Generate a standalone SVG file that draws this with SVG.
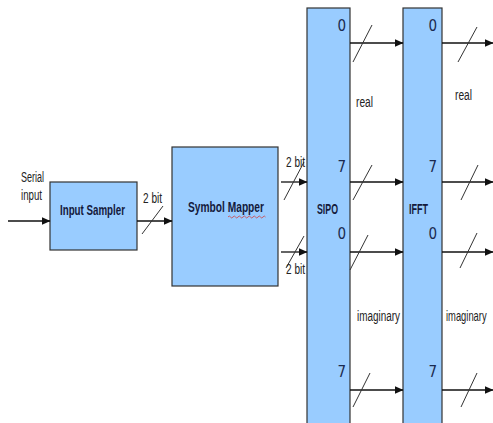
<svg xmlns="http://www.w3.org/2000/svg" width="493" height="423" viewBox="0 0 493 423">
<style>
.box{fill:#99CCFF;stroke:#333;stroke-width:1.2}
.ln{stroke:#111;stroke-width:1.3;fill:none}
.sl{stroke:#333;stroke-width:1;fill:none}
.bt{font-family:"Liberation Sans",Arial,sans-serif;font-weight:bold;font-size:14px;fill:#141a3c}
.lb{font-family:"Liberation Sans",Arial,sans-serif;font-size:14px;fill:#222}
.nm{font-family:"DejaVu Sans Condensed","DejaVu Sans",sans-serif;font-size:15px;fill:#1a2a50}
</style>
<defs>
<marker id="ah" markerWidth="9" markerHeight="8" refX="8.5" refY="4" orient="auto" markerUnits="userSpaceOnUse">
<path d="M0,0 L9,4 L0,8 Z" fill="#111"/>
</marker>
</defs>
<rect width="493" height="423" fill="#fff"/>
<g id="input-sampler">
<rect class="box" x="50" y="182" width="87" height="68"/>
<text class="bt" x="60" y="215" textLength="65" lengthAdjust="spacingAndGlyphs">Input Sampler</text>
</g>
<g id="symbol-mapper">
<rect class="box" x="172" y="147" width="106" height="139"/>
<text class="bt" x="188" y="212" textLength="76" lengthAdjust="spacingAndGlyphs">Symbol Mapper</text>
<path d="M228,217 q1.25,-2 2.5,0 t2.5,0 t2.5,0 t2.5,0 t2.5,0 t2.5,0 t2.5,0 t2.5,0 t2.5,0 t2.5,0 t2.5,0 t2.5,0 t2.5,0 t2.5,0 t2.5,0" fill="none" stroke="#d04040" stroke-width="0.8"/>
</g>
<g id="sipo">
<rect class="box" x="307" y="8" width="43" height="420"/>
<text class="bt" x="317" y="214" textLength="21" lengthAdjust="spacingAndGlyphs">SIPO</text>
<text class="nm" x="346" y="31" text-anchor="end">0</text>
<text class="nm" x="346" y="172" text-anchor="end">7</text>
<text class="nm" x="346" y="239" text-anchor="end">0</text>
<text class="nm" x="346" y="377" text-anchor="end">7</text>
</g>
<g id="ifft">
<rect class="box" x="403" y="8" width="39" height="420"/>
<text class="bt" x="409" y="214" textLength="19" lengthAdjust="spacingAndGlyphs">IFFT</text>
<text class="nm" x="437" y="31" text-anchor="end">0</text>
<text class="nm" x="437" y="172" text-anchor="end">7</text>
<text class="nm" x="437" y="239" text-anchor="end">0</text>
<text class="nm" x="437" y="377" text-anchor="end">7</text>
</g>
<g id="connectors">
<line class="ln" x1="8" y1="221" x2="50" y2="221" marker-end="url(#ah)"/>
<line class="ln" x1="137" y1="221" x2="172" y2="221" marker-end="url(#ah)"/>
<line class="sl" x1="142" y1="234" x2="163" y2="206"/>
<line class="ln" x1="281" y1="182" x2="307" y2="182" marker-end="url(#ah)"/>
<line class="sl" x1="284" y1="200" x2="304" y2="162"/>
<line class="ln" x1="281" y1="252" x2="307" y2="252" marker-end="url(#ah)"/>
<line class="sl" x1="286" y1="268" x2="304" y2="236"/>
<line class="ln" x1="350" y1="43" x2="403" y2="43" marker-end="url(#ah)"/>
<line class="sl" x1="353" y1="62" x2="372" y2="25"/>
<line class="ln" x1="350" y1="182" x2="403" y2="182" marker-end="url(#ah)"/>
<line class="sl" x1="353" y1="200" x2="372" y2="165"/>
<line class="ln" x1="350" y1="252" x2="403" y2="252" marker-end="url(#ah)"/>
<line class="sl" x1="350" y1="270" x2="368" y2="235"/>
<line class="ln" x1="350" y1="390" x2="403" y2="390" marker-end="url(#ah)"/>
<line class="sl" x1="353" y1="407" x2="370" y2="373"/>
<line class="ln" x1="442" y1="43" x2="493" y2="43" marker-end="url(#ah)"/>
<line class="sl" x1="458" y1="62" x2="477" y2="27"/>
<line class="ln" x1="442" y1="182" x2="493" y2="182" marker-end="url(#ah)"/>
<line class="sl" x1="461" y1="200" x2="478" y2="165"/>
<line class="ln" x1="442" y1="252" x2="493" y2="252" marker-end="url(#ah)"/>
<line class="sl" x1="460" y1="268" x2="477" y2="233"/>
<line class="ln" x1="442" y1="390" x2="493" y2="390" marker-end="url(#ah)"/>
<line class="sl" x1="461" y1="407" x2="477" y2="373"/>
</g>
<g id="labels">
<text class="lb" x="21" y="182" textLength="23" lengthAdjust="spacingAndGlyphs">Serial</text>
<text class="lb" x="21" y="200" textLength="21" lengthAdjust="spacingAndGlyphs">input</text>
<text class="lb" x="143" y="203" textLength="19" lengthAdjust="spacingAndGlyphs">2 bit</text>
<text class="lb" x="286" y="167" textLength="19" lengthAdjust="spacingAndGlyphs">2 bit</text>
<text class="lb" x="286" y="274" textLength="19" lengthAdjust="spacingAndGlyphs">2 bit</text>
<text class="lb" x="356" y="107" textLength="17" lengthAdjust="spacingAndGlyphs">real</text>
<text class="lb" x="455" y="100" textLength="17" lengthAdjust="spacingAndGlyphs">real</text>
<text class="lb" x="357" y="321" textLength="43" lengthAdjust="spacingAndGlyphs">imaginary</text>
<text class="lb" transform="translate(446,321) scale(0.67,1)">imaginary</text>
</g>
</svg>
